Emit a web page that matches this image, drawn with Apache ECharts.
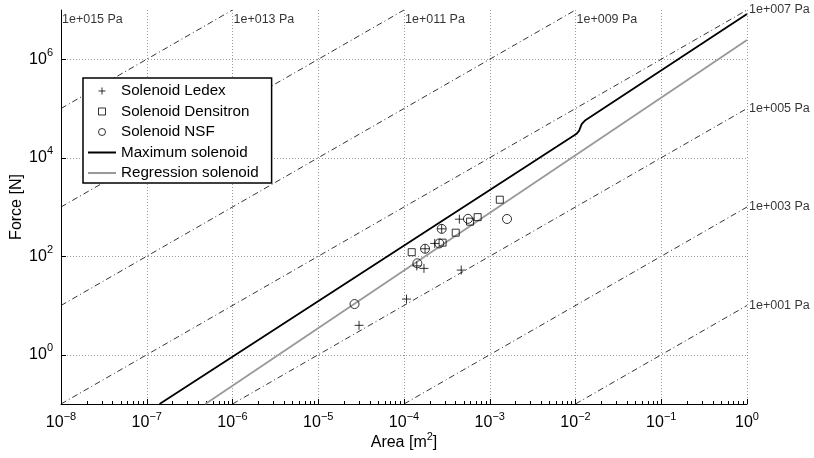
<!DOCTYPE html>
<html><head><meta charset="utf-8">
<script src="https://cdn.jsdelivr.net/npm/echarts@6/dist/echarts.min.js"></script>
<style>html,body{margin:0;padding:0;background:#fff}#c{width:814px;height:458px}</style>
</head><body><div id="c"></div>
<script>
// ---- data ----
const ledexArea  = [4.42e-4, 2.28e-4, 2.75e-4, 1.76e-4, 1.41e-4, 1.71e-4, 4.65e-4, 1.07e-4, 2.99e-5];
const ledexForce = [566, 182, 360, 142, 63.7, 56.7, 52.4, 13.5, 3.96];
const densArea   = [1.31e-3, 7.23e-4, 5.89e-4, 4.01e-4, 2.82e-4, 1.23e-4];
const densForce  = [1406, 622, 504, 301, 189, 121];
const nsfArea    = [5.57e-4, 1.59e-3, 2.75e-4, 2.58e-4, 1.76e-4, 1.43e-4, 2.65e-5];
const nsfForce   = [574, 571, 360, 182, 142, 71.9, 10.7];
const maxArea    = [1.41e-7, 1.02e-2, 1.10e-2, 1.18e-2, 1.29e-2, 1];
const maxForce   = [0.1, 3.02e4, 3.52e4, 4.82e4, 5.70e4, 8.3e6];
const regArea    = [4.82e-7, 1];
const regForce   = [0.1, 2.45e6];
// iso-pressure reference lines (F = P*A), endpoints where they meet the plot frame
const pressureLabels     = ['1e+015 Pa','1e+013 Pa','1e+011 Pa','1e+009 Pa','1e+007 Pa','1e+005 Pa','1e+003 Pa','1e+001 Pa'];
const pressureStartArea  = [1e-8, 1e-8, 1e-8, 1e-8, 1e-8, 1e-6, 1e-4, 1e-2];
const pressureStartForce = [1e7, 1e5, 1e3, 10, 0.1, 0.1, 0.1, 0.1];
const pressureEndArea    = [1e-8, 1e-6, 1e-4, 1e-2, 1, 1, 1, 1];
const pressureEndForce   = [1e7, 1e7, 1e7, 1e7, 1e7, 1e5, 1e3, 10];
const xTickValues = [1e-8,1e-7,1e-6,1e-5,1e-4,1e-3,1e-2,1e-1,1];
const yTickValues = [1, 100, 1e4, 1e6];
const xMinorTicks = [];
for (let d = -8; d < 0; d++) for (let m = 2; m <= 9; m++) xMinorTicks.push(m * Math.pow(10, d));

const FONT = 'Liberation Sans, Arial, Helvetica, sans-serif';
const zip = (a, b) => a.map((v, i) => [v, b[i]]);
const supFmt = v => {
  const e = Math.round(Math.log10(v));
  return '{b|10}{s|' + (e < 0 ? '\u2212' + (-e) : e) + '}';
};
const rich = {
  b: {fontSize: 16, lineHeight: 24, fontFamily: FONT, color: '#000'},
  s: {fontSize: 11, lineHeight: 11, fontFamily: FONT, color: '#000', verticalAlign: 'top', padding: [0, 0, 13, 0]}
};
const gridLine = {show: true, lineStyle: {color: '#999', width: 1, type: [1, 2]}};

const series = [];
pressureLabels.forEach((lab, i) => {
  series.push({
    type: 'line', name: 'p' + i, silent: true, symbol: 'none', z: 1,
    data: [[pressureStartArea[i], pressureStartForce[i]], [pressureEndArea[i], pressureEndForce[i]]],
    lineStyle: {color: '#000', width: 0.8, type: [6, 3, 1, 3]}
  });
});
series.push({
  type: 'scatter', name: 'plabels', silent: true, clip: false, symbolSize: 0, z: 5,
  label: {show: true, fontSize: 12.5, fontFamily: FONT, color: '#000'},
  data: pressureLabels.map((lab, i) => {
    const right = pressureEndArea[i] === 1;
    return {
      value: [pressureEndArea[i], pressureEndForce[i]],
      label: {
        show: true, formatter: lab, fontSize: 12.5, fontFamily: FONT, color: '#000',
        position: right ? [2, 0] : [1, 3], align: 'left', verticalAlign: right ? 'middle' : 'top'
      }
    };
  })
});
series.push({type: 'line', name: 'Maximum solenoid', data: zip(maxArea, maxForce), symbol: 'none', z: 3,
  lineStyle: {color: '#000', width: 1.8}, itemStyle: {color: '#000'}});
series.push({type: 'line', name: 'Regression solenoid', data: zip(regArea, regForce), symbol: 'none', z: 3,
  lineStyle: {color: '#999', width: 1.8}, itemStyle: {color: '#999'}});
const mk = {color: 'rgba(0,0,0,0)', borderColor: '#000', borderWidth: 1};
series.push({type: 'scatter', name: 'Solenoid Ledex', data: zip(ledexArea, ledexForce), z: 4,
  symbol: 'path://M0,4L8,4M4,0L4,8', symbolSize: 9, itemStyle: mk});
series.push({type: 'scatter', name: 'Solenoid Densitron', data: zip(densArea, densForce), z: 4,
  symbol: 'rect', symbolSize: 7, itemStyle: mk});
series.push({type: 'scatter', name: 'Solenoid NSF', data: zip(nsfArea, nsfForce), z: 4,
  symbol: 'circle', symbolSize: 9, itemStyle: mk});

const chart = echarts.init(document.getElementById('c'), null, {renderer: 'canvas'});
chart.setOption({
  animation: false,
  backgroundColor: '#fff',
  grid: {left: 61, right: 67, top: 10, bottom: 54, containLabel: false, outerBoundsMode: 'none'},
  legend: {
    left: 83, top: 78, orient: 'vertical', itemGap: 2.5, itemWidth: 28, itemHeight: 7,
    padding: [4, 13, 1, 5], borderColor: '#000', borderWidth: 1.5, backgroundColor: '#fff',
    selectedMode: false, textStyle: {fontSize: 15.2, lineHeight: 18, fontFamily: FONT, color: '#000'},
    itemStyle: {borderWidth: 1},
    data: [
      {name: 'Solenoid Ledex'},
      {name: 'Solenoid Densitron', icon: 'path://M0,0L7,0L7,7L0,7Z'},
      {name: 'Solenoid NSF'},
      {name: 'Maximum solenoid', icon: 'path://M0,0L28,0L28,2L0,2Z', itemStyle: {color: '#000', borderWidth: 0}},
      {name: 'Regression solenoid', icon: 'path://M0,0L28,0L28,2L0,2Z', itemStyle: {color: '#999', borderWidth: 0}}
    ]
  },
  xAxis: [{
    type: 'log', logBase: 10, min: 1e-8, max: 1, position: 'bottom',
    name: '{n|Area [m}{s|2}{n|]}', nameLocation: 'middle', nameGap: 27, nameMoveOverlap: false,
    nameTextStyle: {fontFamily: FONT, color: '#000', rich: {
      n: {fontSize: 16, lineHeight: 24, fontFamily: FONT, color: '#000'},
      s: {fontSize: 11, lineHeight: 11, fontFamily: FONT, color: '#000', verticalAlign: 'top', padding: [0, 0, 13, 0]}}},
    axisLine: {show: true, lineStyle: {color: '#000', width: 1}},
    axisTick: {show: true, inside: true, length: 5, lineStyle: {color: '#000'}, customValues: xTickValues},
    axisLabel: {show: true, margin: 7, formatter: supFmt, rich: rich, customValues: xTickValues},
    splitLine: gridLine
  }, {
    type: 'log', logBase: 10, min: 1e-8, max: 1, position: 'bottom', show: true, offset: 0,
    axisLine: {show: true, lineStyle: {color: 'rgba(0,0,0,0)'}}, axisLabel: {show: false}, splitLine: {show: false},
    axisTick: {show: true, inside: true, length: 3, lineStyle: {color: '#000', width: 1}, customValues: xMinorTicks}
  }],
  yAxis: {
    type: 'log', logBase: 10, min: 0.1, max: 1e7,
    name: 'Force [N]', nameLocation: 'middle', nameGap: 34, nameMoveOverlap: false,
    nameTextStyle: {fontSize: 16, lineHeight: 20, fontFamily: FONT, color: '#000'},
    axisLine: {show: true, lineStyle: {color: '#000', width: 1}},
    axisTick: {show: true, inside: true, length: 5, lineStyle: {color: '#000'}, customValues: yTickValues},
    axisLabel: {show: true, margin: 8, formatter: supFmt, rich: rich, customValues: yTickValues},
    splitLine: gridLine
  },
  series: series
});
</script></body></html>
